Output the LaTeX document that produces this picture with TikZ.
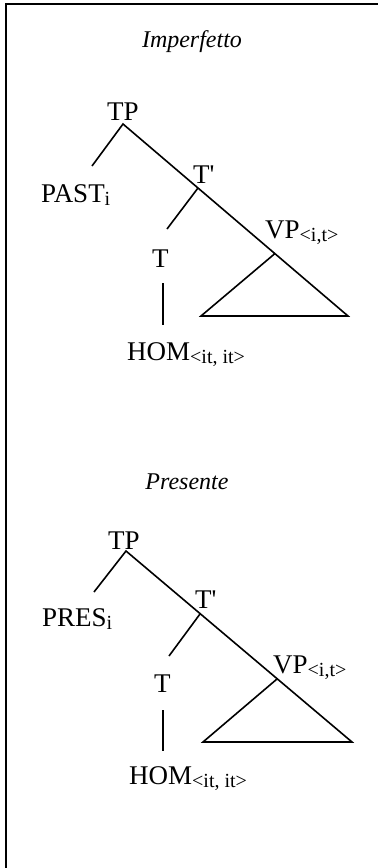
\documentclass[tikz,border=0pt]{standalone}
\usepackage{fontspec}
\setmainfont{Liberation Serif}
\begin{document}
\begin{tikzpicture}[x=1pt,y=-1pt,
  lbl/.style={anchor=base west,inner sep=0pt,font=\fontsize{27}{29}\selectfont},
  ttl/.style={anchor=base,inner sep=0pt,font=\fontsize{24}{26}\selectfont\itshape},
  edge/.style={line width=1.6pt},
  frame/.style={line width=1.8pt}]
\useasboundingbox (0,0) rectangle (378,868);
\newcommand{\sbs}[1]{\raisebox{-3pt}{\fontsize{20}{22}\selectfont #1}}
% frame
\coordinate (fb) at (6,868);
\coordinate (fc) at (6,4);
\coordinate (fr) at (378,4);
\draw[frame] (fb) -- (fc) -- (fr);

% ---- tree 1 ----
\node[ttl] (title1) at (192,47) {Imperfetto};
\node[lbl] (tp1) at (107,120) {TP};
\node[lbl] (past1) at (41,202) {PAST\sbs{i}};
\node[lbl] (tb1) at (193,183) {T\textquotesingle};
\node[lbl] (t1) at (152,267) {T};
\node[lbl] (vp1) at (265,238) {VP\sbs{<i,t>}};
\node[lbl] (hom1) at (127,360) {HOM\sbs{<it, it>}};
\coordinate (a1) at (123,124);
\coordinate (b1) at (92,166);
\coordinate (c1) at (198,188);
\coordinate (d1) at (167,229);
\coordinate (e1) at (275,253.5);
\coordinate (f1) at (348,316);
\coordinate (g1) at (201,316);
\coordinate (h1) at (163,283);
\coordinate (k1) at (163,325);
\draw[edge] (b1) -- (a1) -- (f1) -- (g1) -- (e1);
\draw[edge] (c1) -- (d1);
\draw[edge] (h1) -- (k1);

% ---- tree 2 ----
\node[ttl] (title2) at (187,489) {Presente};
\node[lbl] (tp2) at (108,549) {TP};
\node[lbl] (pres2) at (42,626) {PRES\sbs{i}};
\node[lbl] (tb2) at (195,608) {T\textquotesingle};
\node[lbl] (t2) at (154,692) {T};
\node[lbl] (vp2) at (273,673) {VP\sbs{<i,t>}};
\node[lbl] (hom2) at (129,784) {HOM\sbs{<it, it>}};
\coordinate (a2) at (126,551);
\coordinate (b2) at (94,592);
\coordinate (c2) at (200,614);
\coordinate (d2) at (169,656);
\coordinate (e2) at (277,679);
\coordinate (f2) at (352,742);
\coordinate (g2) at (203,742);
\coordinate (h2) at (163,710);
\coordinate (k2) at (163,751);
\draw[edge] (b2) -- (a2) -- (f2) -- (g2) -- (e2);
\draw[edge] (c2) -- (d2);
\draw[edge] (h2) -- (k2);
\end{tikzpicture}
\end{document}
